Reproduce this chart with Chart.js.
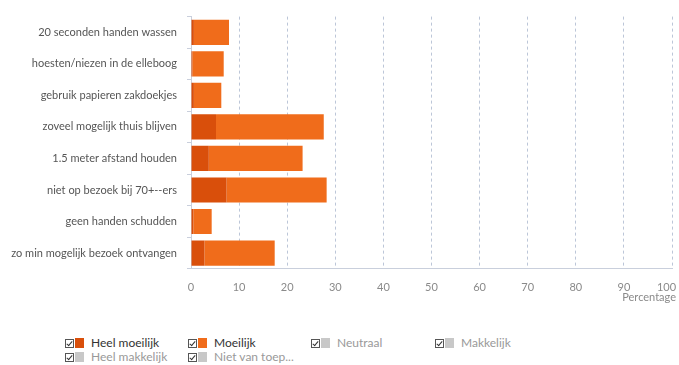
<!DOCTYPE html>
<html>
<head>
<meta charset="utf-8">
<script src="https://cdn.jsdelivr.net/npm/chart.js@4/dist/chart.umd.min.js"></script>
<style>
  html, body { margin: 0; padding: 0; background: #fff; }
  body { width: 679px; height: 365px; position: relative; overflow: hidden; font-family: Lato, sans-serif; }
  #wrap { position: absolute; left: 0; top: 0; width: 679px; height: 306px; }
  #legend { position: absolute; left: 65px; top: 336px; width: 600px; }
  .item { position: absolute; display: flex; align-items: center; font-size: 12px; line-height: 14px; white-space: nowrap; }
  .chk { width: 9px; height: 9px; border: 1px solid #555; box-sizing: border-box; position: relative; margin-right: 1px; }
  .chk::after { content: ""; position: absolute; left: 2px; top: 0px; width: 2px; height: 5px; border: solid #333; border-width: 0 1px 1px 0; transform: rotate(40deg); }
  .sw { width: 9px; height: 10px; margin-right: 7px; }
</style>
</head>
<body>
<div id="wrap"><canvas id="c"></canvas></div>
<div id="legend"></div>
<script>
// Maatregelen (categorieën)
const categories = [
  "20 seconden handen wassen",
  "hoesten/niezen in de elleboog",
  "gebruik papieren zakdoekjes",
  "zoveel mogelijk thuis blijven",
  "1.5 meter afstand houden",
  "niet op bezoek bij 70+--ers",
  "geen handen schudden",
  "zo min mogelijk bezoek ontvangen"
];
// Percentage "Heel moeilijk"
const heelMoeilijk = [0.6, 0.3, 0.6, 5.2, 3.7, 7.4, 0.5, 2.8];
// Percentage "Moeilijk"
const moeilijk = [7.3, 6.5, 5.7, 22.4, 19.5, 20.8, 3.8, 14.6];
// Legenda-items
const seriesNames = ["Heel moeilijk", "Moeilijk", "Neutraal", "Makkelijk", "Heel makkelijk", "Niet van toep..."];
const seriesColors = ["#d94f0b", "#f06c1b", "#c8c8c8", "#c8c8c8", "#c8c8c8", "#c8c8c8"];
const seriesVisible = [true, true, false, false, false, false];
const xTicks = [0, 10, 20, 30, 40, 50, 60, 70, 80, 90, 100];
const xTitle = "Percentage";

// As-titel rechts onder de x-as
const axisTitle = {
  id: 'axisTitle',
  afterDraw(chart) {
    const { ctx } = chart;
    ctx.save();
    ctx.font = '11px Lato';
    ctx.fillStyle = '#8a8a8a';
    ctx.textAlign = 'right';
    ctx.textBaseline = 'middle';
    ctx.fillText(xTitle, chart.width - 3, chart.chartArea.bottom + 29);
    ctx.restore();
  }
};

const ctx = document.getElementById('c');
new Chart(ctx, {
  type: 'bar',
  data: {
    labels: categories,
    datasets: [
      { label: seriesNames[0], data: heelMoeilijk, backgroundColor: seriesColors[0] },
      { label: seriesNames[1], data: moeilijk, backgroundColor: seriesColors[1] }
    ]
  },
  options: {
    indexAxis: 'y',
    responsive: true,
    maintainAspectRatio: false,
    animation: false,
    layout: { padding: { top: 14, left: 0, right: 7, bottom: 0 } },
    datasets: { bar: { categoryPercentage: 0.8, barPercentage: 1.0 } },
    plugins: { legend: { display: false }, tooltip: { enabled: false } },
    scales: {
      x: {
        stacked: true,
        min: 0, max: 100,
        afterBuildTicks: s => { s.ticks = xTicks.map(v => ({ value: v })); },
        afterFit: s => { s.paddingRight = 0; },
        grid: { color: '#bcc6d8', lineWidth: 1, drawTicks: false },
        border: { color: '#c9cfdc', dash: [3, 3], width: 1 },
        ticks: {
          color: '#8a8a8a', font: { family: 'Lato', size: 11 }, padding: 12,
          // laatste label iets naar links zodat het binnen het beeld valt
          callback: v => (v === 100 ? '100\u2002\u2002' : String(v))
        }
      },
      y: {
        stacked: true,
        afterFit: s => { s.width = 191; },
        grid: { drawOnChartArea: false, drawTicks: true, tickLength: 4, color: '#c9cfdc', offset: true },
        border: { color: '#c9cfdc', width: 1 },
        ticks: { color: '#555', font: { family: 'Lato', size: 11 }, padding: 10 }
      }
    }
  },
  plugins: [axisTitle]
});

// Legenda onder de grafiek
const legend = document.getElementById('legend');
const pos = [[0, 0], [123, 0], [246, 0], [370, 0], [0, 14], [123, 14]];
seriesNames.forEach((name, i) => {
  const el = document.createElement('div');
  el.className = 'item';
  el.style.left = pos[i][0] + 'px';
  el.style.top = pos[i][1] + 'px';
  el.innerHTML = '<span class="chk"></span><span class="sw" style="background:' + seriesColors[i] + '"></span>' +
    '<span style="color:' + (seriesVisible[i] ? '#333' : '#999') + '">' + name + '</span>';
  legend.appendChild(el);
});
</script>
</body>
</html>
